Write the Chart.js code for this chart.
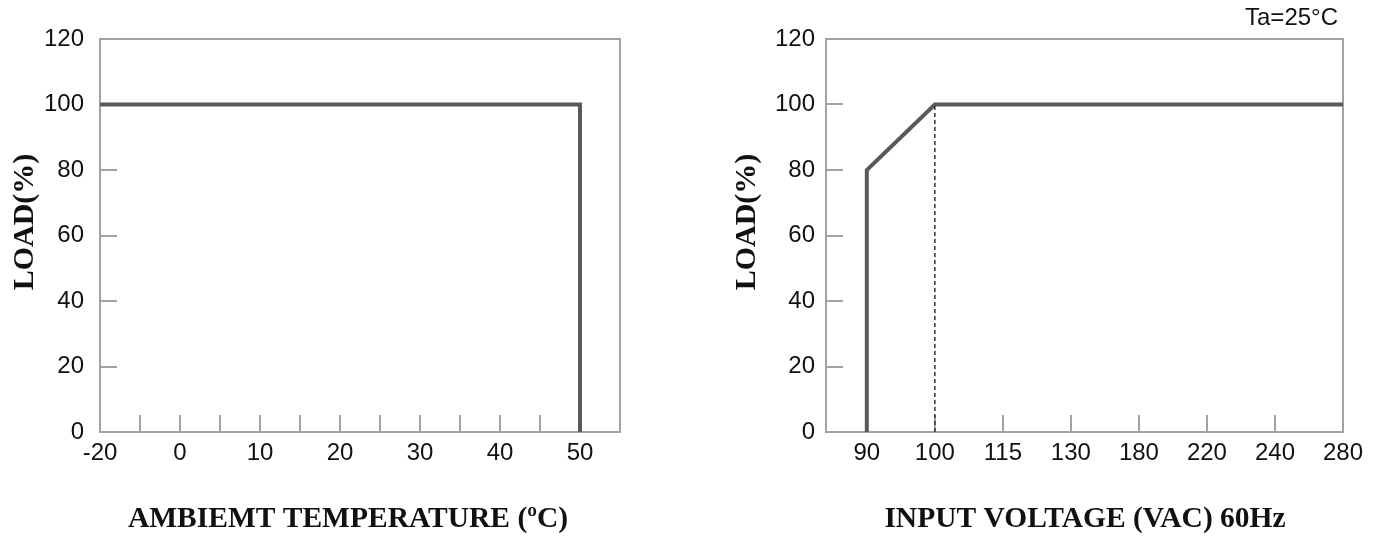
<!DOCTYPE html>
<html>
<head>
<meta charset="utf-8">
<script src="https://cdn.jsdelivr.net/npm/chart.js@4.4.0/dist/chart.umd.min.js"></script>
<style>
  html, body { margin: 0; padding: 0; background: #fff; }
  #wrap { position: relative; width: 1379px; height: 537px; overflow: hidden; }
  canvas { position: absolute; top: 0; }
  #tempChart { left: 0; }
  #voltChart { left: 690px; }
</style>
</head>
<body>
<div id="wrap">
  <canvas id="tempChart" width="690" height="537"></canvas>
  <canvas id="voltChart" width="689" height="537"></canvas>
</div>
<script>
// Left: load vs ambient temperature (category-like axis, equal spacing)
const tempLabels = ['-20', '0', '10', '20', '30', '40', '50'];
const tempCurveT = ['-20', '50', '50'];
const tempCurveLoad = [100, 100, 0];

// Right: load vs input voltage
const voltLabels = ['90', '100', '115', '130', '180', '220', '240', '280'];
const voltCurveV = ['90', '90', '100', '280'];
const voltCurveLoad = [0, 80, 100, 100];
const voltGuideV = ['100', '100'];
const voltGuideLoad = [0, 100];

// Y axis (both charts)
const loadTicks = [0, 20, 40, 60, 80, 100, 120];

const LINE = '#595959';
const FRAME = '#a2a2a2';
const TICK_FONT = { family: "'Liberation Sans', Arial, sans-serif", size: 24 };
const X_TITLE_FONT = "bold 29.5px 'Liberation Serif', 'Times New Roman', serif";
const Y_TITLE_FONT = "bold 30px 'Liberation Serif', 'Times New Roman', serif";

// box round the plot area + short inward tick marks
const framePlugin = {
  id: 'frame',
  beforeDatasetsDraw(chart) {
    const { ctx, chartArea: a, scales: { x, y } } = chart;
    ctx.save();
    ctx.strokeStyle = FRAME;
    ctx.lineWidth = 2;
    ctx.strokeRect(a.left, a.top, a.right - a.left, a.bottom - a.top);
    ctx.beginPath();
    x.ticks.forEach(t => {
      if (t.value <= x.min || t.value >= x.max) return;
      const px = Math.round(x.getPixelForValue(t.value));
      ctx.moveTo(px, a.bottom);
      ctx.lineTo(px, a.bottom - 17);
    });
    y.ticks.forEach(t => {
      if (t.value <= y.min || t.value >= y.max) return;
      const py = Math.round(y.getPixelForValue(t.value));
      ctx.moveTo(a.left, py);
      ctx.lineTo(a.left + 17, py);
    });
    ctx.stroke();
    ctx.restore();
  }
};

// axis titles and the small note
const textPlugin = {
  id: 'axisText',
  afterDraw(chart, args, opts) {
    const ctx = chart.ctx;
    ctx.save();
    ctx.fillStyle = '#111';
    ctx.textAlign = 'center';
    ctx.textBaseline = 'middle';
    ctx.font = X_TITLE_FONT;
    ctx.fillText(opts.xTitle, opts.xTitleX, opts.xTitleY);
    ctx.font = Y_TITLE_FONT;
    ctx.translate(opts.yTitleX, opts.yTitleY);
    ctx.rotate(-Math.PI / 2);
    ctx.fillText(opts.yTitle, 0, 0);
    ctx.restore();
    if (opts.note) {
      ctx.save();
      ctx.fillStyle = '#111';
      ctx.font = TICK_FONT.size + 'px ' + TICK_FONT.family;
      ctx.textAlign = 'right';
      ctx.textBaseline = 'middle';
      ctx.fillText(opts.note, opts.noteX, opts.noteY);
      ctx.restore();
    }
  }
};

function yScale(width, pad) {
  return {
    type: 'linear',
    min: loadTicks[0],
    max: loadTicks[loadTicks.length - 1],
    afterFit: s => { s.width = width; },
    afterBuildTicks: s => { s.ticks = loadTicks.map(v => ({ value: v })); },
    grid: { display: false, drawTicks: false },
    border: { display: false },
    ticks: { font: TICK_FONT, color: '#111', padding: pad, autoSkip: false }
  };
}

new Chart(document.getElementById('tempChart'), {
  type: 'line',
  data: {
    datasets: [{
      data: tempCurveT.map((t, i) => ({ x: tempLabels.indexOf(t), y: tempCurveLoad[i] })),
      borderColor: LINE,
      borderWidth: 4,
      pointRadius: 0,
      tension: 0,
      fill: false,
      borderJoinStyle: 'miter'
    }]
  },
  options: {
    responsive: false,
    animation: false,
    layout: { padding: { top: 39, right: 70, left: 0, bottom: 0 } },
    plugins: {
      legend: { display: false },
      tooltip: { enabled: false },
      axisText: {
        xTitle: 'AMBIEMT TEMPERATURE (\u00baC)', xTitleX: 348, xTitleY: 519,
        yTitle: 'LOAD(%)', yTitleX: 25, yTitleY: 222
      }
    },
    scales: {
      x: {
        type: 'linear',
        min: 0,
        max: tempLabels.length - 0.5,
        afterFit: s => { s.height = 105; },
        // ticks every half step, labels only on the whole steps
        afterBuildTicks: s => {
          s.ticks = [];
          for (let i = 0; i <= (tempLabels.length - 1) * 2; i++) s.ticks.push({ value: i / 2 });
        },
        grid: { display: false, drawTicks: false },
        border: { display: false },
        ticks: {
          font: TICK_FONT, color: '#111', padding: 7, autoSkip: false, maxRotation: 0,
          callback: v => Number.isInteger(v) ? tempLabels[v] : ''
        }
      },
      y: yScale(100, 16)
    }
  },
  plugins: [framePlugin, textPlugin]
});

new Chart(document.getElementById('voltChart'), {
  type: 'line',
  data: {
    datasets: [{
      data: voltGuideV.map((v, i) => ({ x: voltLabels.indexOf(v), y: voltGuideLoad[i] })),
      borderColor: '#333',
      borderWidth: 1.5,
      borderDash: [4, 3],
      pointRadius: 0,
      fill: false
    }, {
      data: voltCurveV.map((v, i) => ({ x: voltLabels.indexOf(v), y: voltCurveLoad[i] })),
      borderColor: LINE,
      borderWidth: 4,
      pointRadius: 0,
      tension: 0,
      fill: false,
      borderJoinStyle: 'miter'
    }]
  },
  options: {
    responsive: false,
    animation: false,
    layout: { padding: { top: 39, right: 36, left: 0, bottom: 0 } },
    plugins: {
      legend: { display: false },
      tooltip: { enabled: false },
      axisText: {
        xTitle: 'INPUT VOLTAGE (VAC) 60Hz', xTitleX: 395, xTitleY: 519,
        yTitle: 'LOAD(%)', yTitleX: 57, yTitleY: 222,
        note: 'Ta=25\u00b0C', noteX: 648, noteY: 18
      }
    },
    scales: {
      x: {
        type: 'linear',
        min: -0.6,
        max: voltLabels.length - 1,
        afterFit: s => { s.height = 105; },
        afterBuildTicks: s => { s.ticks = voltLabels.map((_, i) => ({ value: i })); },
        grid: { display: false, drawTicks: false },
        border: { display: false },
        ticks: {
          font: TICK_FONT, color: '#111', padding: 7, autoSkip: false, maxRotation: 0,
          callback: v => voltLabels[v]
        }
      },
      y: yScale(136, 11)
    }
  },
  plugins: [framePlugin, textPlugin]
});
</script>
</body>
</html>
